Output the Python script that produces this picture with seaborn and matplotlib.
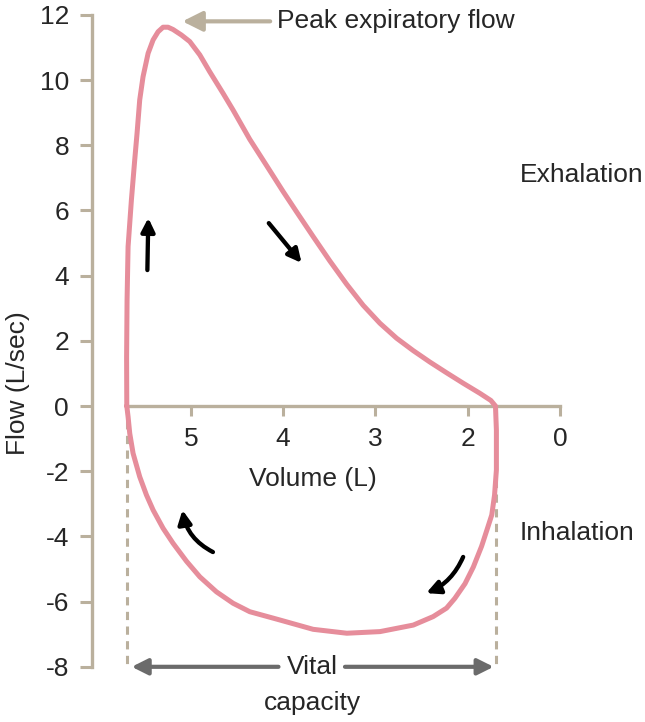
import matplotlib
matplotlib.use("Agg")
import matplotlib.pyplot as plt
import seaborn as sns

# Flow-volume loop (volume in L, flow in L/sec)
exp_volume = [5.693, 5.695, 5.69, 5.679, 5.643, 5.607, 5.582, 5.553, 5.517, 5.462,
              5.408, 5.354, 5.300, 5.246, 5.192, 5.101, 5.011, 4.902, 4.794, 4.650,
              4.542, 4.361, 4.180, 4.000, 3.855, 3.675, 3.494, 3.313, 3.133, 2.952,
              2.771, 2.591, 2.411, 2.230, 2.050, 1.869, 1.750, 1.700]
exp_flow = [0.0, 1.5, 3.25, 4.89, 6.32, 7.55, 8.36, 9.39, 10.10, 10.82,
            11.23, 11.48, 11.62, 11.62, 11.55, 11.38, 11.18, 10.77, 10.25, 9.59,
            9.08, 8.18, 7.38, 6.58, 5.96, 5.20, 4.45, 3.74, 3.09, 2.54,
            2.08, 1.70, 1.35, 1.02, 0.70, 0.39, 0.17, 0.0]
insp_volume = [1.700, 1.690, 1.690, 1.710, 1.740, 1.790, 1.850, 1.940, 2.030, 2.140,
               2.230, 2.375, 2.590, 2.950, 3.310, 3.675, 4.040, 4.361, 4.542, 4.722,
               4.902, 5.047, 5.192, 5.300, 5.408, 5.480, 5.553, 5.625, 5.661, 5.679,
               5.693]
insp_flow = [0.0, -0.74, -1.96, -2.73, -3.34, -3.78, -4.30, -4.94, -5.45, -5.90,
             -6.20, -6.46, -6.72, -6.92, -6.97, -6.85, -6.56, -6.31, -6.05, -5.70,
             -5.24, -4.76, -4.21, -3.75, -3.19, -2.73, -2.17, -1.45, -0.84, -0.33,
             0.0]

volume = exp_volume + insp_volume[1:]
flow = exp_flow + insp_flow[1:]

x_ticks = [5, 4, 3, 2, 1]
x_tick_labels = ["5", "4", "3", "2", "0"]
y_ticks = [12, 10, 8, 6, 4, 2, 0, -2, -4, -6, -8]
y_tick_labels = ["12", "10", "8", "6", "4", "2", "0", "-2", "-4", "-6", "-8"]

vc_left, vc_right = 5.693, 1.69

sns.set_style("white")
plt.rcParams["font.family"] = ["Liberation Sans", "DejaVu Sans"]

axis_col = "#bab09d"
loop_col = "#e68d9b"
grey = "#6b6b6b"

fig = plt.figure(figsize=(6.45, 7.22), dpi=100)
ax = fig.add_axes([0.1426, 0.0629, 0.8403, 0.9256])

# dashed guides for vital capacity
for v in (vc_left, vc_right):
    ax.plot([v, v], [0, -8], color=axis_col, lw=2.2, dashes=(2.7, 2.1), zorder=1)

sns.lineplot(x=volume, y=flow, sort=False, estimator=None, color=loop_col,
             lw=3.6, ax=ax, zorder=3)
ax.lines[-1].set_solid_joinstyle("round")

ax.set_xlim(6.07, 0.2)
ax.set_ylim(-8.3, 12.2)

for s in ["top", "right"]:
    ax.spines[s].set_visible(False)
ax.spines["left"].set_bounds(-8, 12)
ax.spines["bottom"].set_position(("data", 0))
ax.spines["bottom"].set_bounds(5.66, 1.0)
for s in ["left", "bottom"]:
    ax.spines[s].set_color(axis_col)
    ax.spines[s].set_linewidth(2.4)
    ax.spines[s].set_zorder(2)

ax.set_xticks(x_ticks)
ax.set_xticklabels(x_tick_labels)
ax.set_yticks(y_ticks)
ax.set_yticklabels(y_tick_labels)
ax.tick_params(axis="y", left=True, direction="out", length=8.5, width=2.2,
               color=axis_col, pad=8, labelsize=19)
ax.tick_params(axis="x", bottom=True, direction="out", length=7, width=2.2,
               color=axis_col, pad=8, labelsize=19)

ax.text(3.68, -2.25, "Volume (L)", ha="center", va="center", fontsize=19)
fig.text(18 / 645, 1 - 383 / 722, "Flow (L/sec)", rotation=90, ha="center",
         va="center", fontsize=19)

# labels
ax.text(4.07, 11.8, "Peak expiratory flow", ha="left", va="center", fontsize=19)
ax.annotate("", xy=(5.09, 11.8), xytext=(4.14, 11.8),
            arrowprops=dict(arrowstyle="-|>", color=axis_col, lw=3, mutation_scale=30,
                            shrinkA=0, shrinkB=0))
ax.text(1.44, 7.08, "Exhalation", ha="left", va="center", fontsize=19)
ax.text(1.44, -3.9, "Inhalation", ha="left", va="center", fontsize=19)

# vital capacity
ax.text(3.68, -8.0, "Vital", ha="center", va="center", fontsize=19)
ax.text(3.68, -9.11, "capacity", ha="center", va="center", fontsize=19)
ax.annotate("", xy=(5.64, -8.0), xytext=(4.05, -8.0),
            arrowprops=dict(arrowstyle="-|>", color=grey, lw=3, mutation_scale=24,
                            shrinkA=0, shrinkB=0), annotation_clip=False)
ax.annotate("", xy=(1.72, -8.0), xytext=(3.33, -8.0),
            arrowprops=dict(arrowstyle="-|>", color=grey, lw=3, mutation_scale=24,
                            shrinkA=0, shrinkB=0), annotation_clip=False)

# direction arrows
arrow_kw = dict(arrowstyle="-|>", color="black", lw=3.1, mutation_scale=20,
                shrinkA=0, shrinkB=0)
ax.annotate("", xy=(5.46, 5.77), xytext=(5.47, 4.17), arrowprops=arrow_kw)
ax.annotate("", xy=(3.80, 4.39), xytext=(4.155, 5.61), arrowprops=arrow_kw)
ax.annotate("", xy=(5.09, -3.19), xytext=(4.76, -4.48),
            arrowprops=dict(arrow_kw, connectionstyle="arc3,rad=-0.25"))
ax.annotate("", xy=(2.45, -5.74), xytext=(2.05, -4.63),
            arrowprops=dict(arrow_kw, connectionstyle="arc3,rad=-0.2"))

fig.savefig("out.png", dpi=100)
